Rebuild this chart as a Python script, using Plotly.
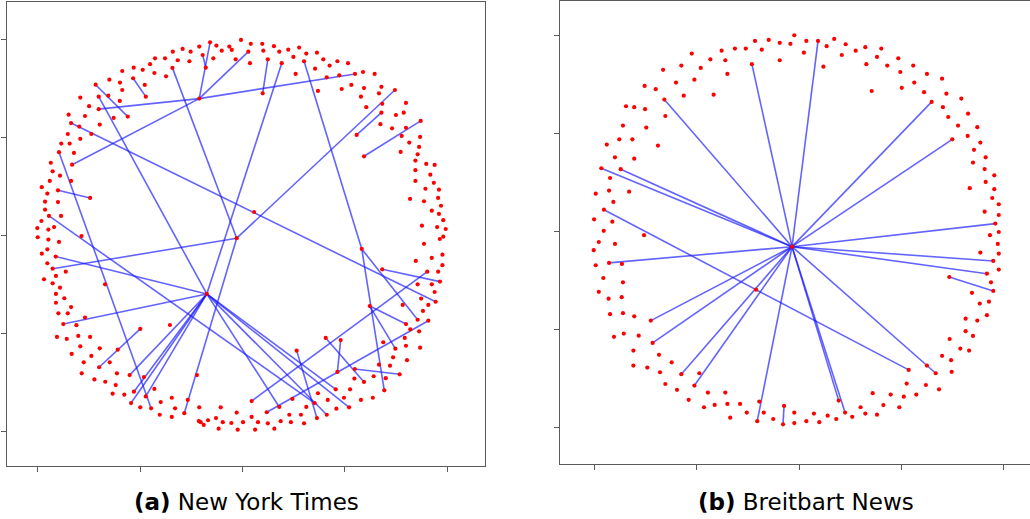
import plotly.graph_objects as go

# ---------------- (a) New York Times : node layout (spring-layout units) ----------------
nyt_ids = ("a1 a2 a4 a5 a6 a7 a8 a9 a10 a11 "
           "a12 a13 a14 a15 a16 a17 a18 a19 a20 a21 "
           "a22 a23 a24 a25 a26 a27 a28 a29 a30 a31 "
           "a32 a33 a34 a35 a36 a37 a38 a39 a40 a41 "
           "a42 a43 a44 a45 a46 a47 a48 a49 a50 a51 "
           "a52 a53 a54 a55 a56 a57 a58 a59 a60 a61 "
           "a62 a63 a64 a65 a66 a67 a68 a69 a70 a71 "
           "a72 a74 a75 a76 a77 "
           "b1 b2 b3 b4 b5 b6 b7 b8 b9 b10 "
           "b11 b12 b13 b14 b15 b16 b17 b18 b19 b20 "
           "b21 b22 b23 b24 b25 b26 b27 b28 b29 b30 "
           "b31 b32 b33 b34 b35 b36 b37 b38 b39 b40 "
           "b41 b42 b43 b44 b45 b46 b47 b48 b49 b50 "
           "b51 b52 b53 b54 b55 b56 b57 b58 b59 b60 "
           "b61 b62 b63 b64 b65 b66 b67 b68 b69 b70 "
           "b71 b72 b73 "
           "c1 c2 c3 c5 c6 c7 c8 c9 c10 c11 "
           "c12 c13 c14 c15 c16 c17 c18 c19 c20 c21 "
           "c22 c23 c24 c25 c26 c27 c28 c29 c30 c31 "
           "c32 c33 c34 c35 c36 c37 c38 c39 c40 c41 "
           "c42 c43 c44 c45 c46 c47 c48 c49 c50 c51 "
           "c52 c53 c54 c55 c56 c57 c58 c59 c60 c61 "
           "c62 c63 c64 c65 c66 c67 c68 c69 c70 c71 "
           "c72 c73 c74 c75 c76 "
           "d4 d5 d6 d7 d8 d9 d10 d11 d12 d13 "
           "d14 d15 d16 d17 d18 d19 d20 d21 d22 d23 "
           "d24 d25 d26 d27 d28 d29 d30 d31 d32 d33 "
           "d34 d35 d36 d37 d38 d39 d40 d41 d42 d43 "
           "d44 d45 d46 d47 d48 d49 d50 d51 d52 d53 "
           "d54 d55 d56 d57 d58 d59 d60 d61 d62 d63 "
           "d64 d65 d66 d67 d69 d70 d71 d72 d73 d74 "
           "d75").split()

nyt_x = [-0.159, -0.008, -0.212, -0.128, -0.065, -0.053, -0.102, 0.028, -0.195, -0.143,
         -0.034, 0.036, -0.293, -0.254, -0.341, -0.379, -0.428, -0.317, -0.260, -0.343,
         -0.180, -0.212, -0.452, -0.488, -0.532, -0.588, -0.431, -0.374, -0.651, -0.599,
         -0.535, -0.478, -0.473, -0.588, -0.718, -0.656, -0.703, -0.600, -0.703, -0.561,
         -0.793, -0.750, -0.770, -0.630, -0.698, -0.850, -0.838, -0.798, -0.739, -0.854,
         -0.793, -0.886, -0.845, -0.824, -0.897, -0.833, -0.937, -0.928, -0.892, -0.942,
         -0.838, -0.981, -0.954, -0.902, -0.745, -0.965, -0.902, -0.965, -0.946, -0.887,
         -0.983, -0.921, -1.003, -0.949, -0.787,
         0.040, 0.096, 0.153, 0.101, 0.179, 0.223, 0.276, 0.248, 0.311, 0.363,
         0.123, 0.191, 0.300, 0.394, 0.463, 0.425, 0.515, 0.354, 0.259, 0.411,
         0.472, 0.549, 0.588, 0.645, 0.098, 0.368, 0.484, 0.531, 0.593, 0.678,
         0.666, 0.744, 0.578, 0.682, 0.604, 0.798, 0.749, 0.787, 0.678, 0.673,
         0.730, 0.798, 0.870, 0.557, 0.777, 0.867, 0.814, 0.862, 0.593, 0.772,
         0.855, 0.844, 0.897, 0.938, 0.844, 0.917, 0.844, 0.934, 0.893, 0.959,
         0.818, 0.886, 0.955, 0.969, 0.924, 0.959, 0.980, 0.876, 0.950, 0.992,
         0.980, 0.963, 0.056,
         -1.001, -0.949, -0.897, -0.981, -0.954, -0.913, -0.954, -0.928, -0.864, -0.912,
         -0.970, -0.928, -0.892, -0.912, -0.871, -0.912, -0.838, -0.900, -0.854, -0.770,
         -0.876, -0.812, -0.672, -0.029, -0.175, -0.355, -0.500, -0.907, -0.859, -0.803,
         -0.745, -0.793, -0.698, -0.610, -0.835, -0.739, -0.649, -0.776, -0.701, -0.786,
         -0.614, -0.552, -0.482, -0.223, -0.724, -0.671, -0.620, -0.431, -0.531, -0.635,
         -0.578, -0.473, -0.346, -0.268, -0.545, -0.400, -0.500, -0.447, -0.330, -0.212,
         -0.107, -0.285, -0.405, -0.346, -0.029, -0.214, -0.205, -0.190, -0.169, -0.130,
         -0.097, -0.055, 0.002, -0.117, -0.024,
         0.886, 0.976, 0.924, 0.846, 0.582, 0.976, 0.682, 0.902, 0.955, 0.964,
         0.855, 0.924, 0.938, 0.872, 0.943, 0.907, 0.782, 0.621, 0.881, 0.855,
         0.798, 0.907, 0.819, 0.862, 0.792, 0.406, 0.479, 0.687, 0.798, 0.867,
         0.746, 0.264, 0.735, 0.803, 0.666, 0.720, 0.548, 0.463, 0.767, 0.640,
         0.699, 0.546, 0.593, 0.692, 0.455, 0.525, 0.368, 0.636, 0.578, 0.495,
         0.416, 0.243, 0.044, 0.179, 0.352, 0.311, 0.458, 0.520, 0.118, 0.228,
         0.285, 0.411, 0.363, 0.044, 0.075, 0.123, 0.186, 0.236, 0.300, 0.061,
         0.155]

nyt_y = [0.988, 1.000, 0.966, 0.971, 0.966, 0.949, 0.945, 0.940, 0.923, 0.906,
         0.901, 0.881, 0.954, 0.940, 0.940, 0.906, 0.906, 0.896, 0.891, 0.857,
         0.858, 0.700, 0.876, 0.847, 0.858, 0.841, 0.831, 0.814, 0.797, 0.782,
         0.804, 0.770, 0.710, 0.744, 0.771, 0.715, 0.710, 0.688, 0.646, 0.608,
         0.705, 0.661, 0.611, 0.601, 0.567, 0.618, 0.575, 0.557, 0.519, 0.519,
         0.494, 0.470, 0.470, 0.422, 0.426, 0.362, 0.372, 0.328, 0.306, 0.279,
         0.279, 0.247, 0.214, 0.231, 0.192, 0.173, 0.171, 0.132, 0.100, 0.100,
         0.074, 0.043, 0.038, 0.030, -0.003,
         0.980, 0.980, 0.968, 0.945, 0.940, 0.950, 0.961, 0.913, 0.930, 0.935,
         0.901, 0.881, 0.891, 0.901, 0.891, 0.869, 0.881, 0.853, 0.826, 0.809,
         0.819, 0.826, 0.836, 0.826, 0.727, 0.739, 0.749, 0.770, 0.754, 0.760,
         0.727, 0.744, 0.710, 0.673, 0.656, 0.678, 0.616, 0.628, 0.628, 0.569,
         0.548, 0.551, 0.586, 0.514, 0.509, 0.504, 0.475, 0.453, 0.405, 0.427,
         0.415, 0.383, 0.366, 0.361, 0.334, 0.311, 0.279, 0.269, 0.239, 0.234,
         0.187, 0.175, 0.192, 0.152, 0.127, 0.110, 0.078, 0.050, 0.043, 0.033,
         -0.006, -0.018, 0.120,
         -0.009, -0.021, -0.033, -0.093, -0.071, -0.108, -0.142, -0.170, -0.185, -0.207,
         -0.224, -0.245, -0.267, -0.299, -0.321, -0.344, -0.366, -0.398, -0.398, -0.420,
         -0.453, -0.459, -0.250, -0.014, -0.299, -0.458, -0.478, -0.519, -0.529, -0.514,
         -0.519, -0.567, -0.577, -0.584, -0.606, -0.616, -0.649, -0.649, -0.674, -0.705,
         -0.705, -0.714, -0.724, -0.714, -0.736, -0.748, -0.765, -0.785, -0.799, -0.809,
         -0.814, -0.823, -0.830, -0.841, -0.857, -0.852, -0.879, -0.884, -0.884, -0.879,
         -0.879, -0.909, -0.917, -0.928, -0.906, -0.949, -0.955, -0.969, -0.945, -0.934,
         -0.955, -0.959, -0.955, -0.988, -0.993,
         -0.043, -0.098, -0.115, -0.130, -0.069, -0.152, -0.173, -0.185, -0.185, -0.236,
         -0.250, -0.250, -0.289, -0.323, -0.339, -0.355, -0.355, -0.361, -0.386, -0.431,
         -0.453, -0.436, -0.480, -0.490, -0.524, -0.524, -0.535, -0.546, -0.564, -0.574,
         -0.579, -0.589, -0.623, -0.638, -0.661, -0.666, -0.683, -0.698, -0.710, -0.720,
         -0.730, -0.732, -0.749, -0.792, -0.787, -0.787, -0.807, -0.830, -0.841, -0.830,
         -0.841, -0.836, -0.847, -0.877, -0.857, -0.877, -0.886, -0.879, -0.904, -0.917,
         -0.917, -0.917, -0.934, -0.928, -0.955, -0.961, -0.950, -0.955, -0.961, -0.993,
         -0.988]

nyt_edges = [("a1", "a23"), ("a10", "a22"), ("a23", "a9"), ("a23", "b22"), ("a23", "a40"),
             ("a23", "a57"), ("a21", "c25"), ("a36", "a41"), ("a32", "a34"), ("a38", "c26"),
             ("a48", "d18"), ("a56", "c59"), ("a65", "a66"), ("a70", "d58"), ("b11", "b25"),
             ("b12", "c26"), ("b13", "d8"), ("b32", "c25"), ("b44", "b39"), ("b49", "b43"),
             ("c7", "c26"), ("c9", "c25"), ("c22", "c26"), ("c28", "c40"), ("c26", "c43"),
             ("c26", "c50"), ("c26", "c56"), ("c26", "c53"), ("c63", "c25"), ("c26", "d48"),
             ("c26", "d61"), ("c26", "d65"), ("c26", "d57"), ("d8", "d23"), ("d8", "d47"),
             ("d21", "d34"), ("d21", "d24"), ("d10", "d13"), ("d56", "d11"), ("d62", "d25"),
             ("d29", "d46"), ("d30", "d41"), ("d35", "d66"), ("d40", "d42")]

# ---------------- (b) Breitbart News : node layout (spring-layout units) ----------------
bb_ids = ("r1 r2 r3 r4 r5 r6 r7 r8 r9 r10 "
          "r11 r12 r13 r14 r15 r16 r17 r18 r19 r20 "
          "r21 r22 r23 r24 r25 r26 r27 r28 r29 r30 "
          "r31 r32 r33 r34 r35 r36 r37 r38 r39 r40 "
          "r41 r42 r43 r44 r45 r46 r47 r48 r49 hub "
          "s2 s3 s4 s5 s6 s7 s8 s9 s10 s11 "
          "s12 s13 s14 s15 s16 s17 s18 s19 s20 s21 "
          "s22 s23 s24 s25 s26 s27 s28 s29 s30 s31 "
          "s32 s33 s34 s35 s36 s37 s38 s39 s40 s41 "
          "s42 s43 s44 s45 s46 s47 s48 s49 s50 "
          "t1 t2 t3 t4 t5 t6 t7 t8 t9 t10 "
          "t11 t12 t13 t14 t15 t16 t17 t18 t19 t20 "
          "t21 t22 t23 t24 t25 t26 t27 t28 t29 t30 "
          "t31 t32 t33 t34 t35 t36 t37 t38 t39 t40 "
          "t41 t42 t43 t44 t45 t46 t47 t48 "
          "u1 u2 u3 u4 u5 u6 u7 u8 u9 u10 "
          "u11 u12 u13 u14 u15 u16 u17 u18 u19 u20 "
          "u21 u22 u23 u24 u25 u26 u27 u28 u29 u30 "
          "u31 u32 u33 u34 u35 u36 u37 u38 u39 u40 "
          "u41 u42 u43 u44 u45 u46").split()

bb_x = [-0.024, -0.216, -0.149, -0.095, -0.043, -0.314, -0.261, -0.183, -0.379, -0.525,
        -0.434, -0.361, -0.095, -0.231, -0.576, -0.481, -0.665, -0.351, -0.602, -0.512,
        -0.755, -0.701, -0.564, -0.418, -0.659, -0.846, -0.806, -0.753, -0.654, -0.861,
        -0.747, -0.879, -0.815, -0.940, -0.690, -0.900, -0.806, -0.967, -0.872, -0.924,
        -0.994, -0.929, -0.831, -0.908, -0.954, -1.002, -0.913, -0.955, -0.758, -0.035,
        0.035, 0.023, 0.092, 0.171, 0.134, 0.227, 0.208, 0.118, 0.276, 0.323,
        0.401, 0.328, 0.380, 0.484, 0.430, 0.494, 0.557, 0.624, 0.354, 0.501,
        0.562, 0.698, 0.610, 0.719, 0.647, 0.792, 0.702, 0.728, 0.825, 0.776,
        0.870, 0.748, 0.823, 0.885, 0.854, 0.911, 0.849, 0.906, 0.953, 0.911,
        0.833, 0.953, 0.943, 0.975, 0.906, 0.975, 0.958, 0.975, 0.932,
        -0.979, -0.900, -1.004, -0.929, -0.866, -0.994, -0.957, -0.861, -0.979, -0.931,
        -0.867, -0.211, -0.924, -0.861, -0.806, -0.725, -0.905, -0.857, -0.784, -0.716,
        -0.810, -0.685, -0.623, -0.810, -0.742, -0.576, -0.488, -0.680, -0.512, -0.654,
        -0.597, -0.446, -0.361, -0.540, -0.195, -0.465, -0.413, -0.351, -0.289, -0.074,
        -0.256, -0.173, -0.024, -0.337, -0.205, -0.127, -0.079, -0.024,
        0.970, 0.885, 0.975, 0.948, 0.975, 0.917, 0.733, 0.937, 0.948, 0.844,
        0.927, 0.882, 0.917, 0.813, 0.870, 0.813, 0.849, 0.735, 0.787, 0.830,
        0.698, 0.742, 0.624, 0.535, 0.667, 0.745, 0.525, 0.619, 0.683, 0.359,
        0.447, 0.511, 0.572, 0.193, 0.411, 0.489, 0.300, 0.224, 0.072, 0.139,
        0.181, 0.259, 0.323, 0.380, 0.035, 0.098]

bb_y = [1.003, 0.974, 0.979, 0.964, 0.959, 0.935, 0.935, 0.929, 0.924, 0.909,
        0.880, 0.875, 0.875, 0.855, 0.848, 0.836, 0.826, 0.805, 0.761, 0.776,
        0.744, 0.727, 0.694, 0.699, 0.674, 0.640, 0.635, 0.625, 0.590, 0.541,
        0.531, 0.471, 0.471, 0.444, 0.439, 0.379, 0.372, 0.323, 0.318, 0.273,
        0.193, 0.209, 0.203, 0.151, 0.111, 0.062, 0.050, 0.003, -0.019, -0.078,
        0.974, 0.914, 0.974, 0.984, 0.947, 0.957, 0.902, 0.842, 0.924, 0.942,
        0.935, 0.855, 0.892, 0.885, 0.848, 0.815, 0.848, 0.805, 0.718, 0.734,
        0.761, 0.781, 0.712, 0.704, 0.662, 0.679, 0.635, 0.585, 0.602, 0.541,
        0.533, 0.471, 0.488, 0.454, 0.417, 0.379, 0.352, 0.319, 0.287, 0.253,
        0.221, 0.216, 0.171, 0.139, 0.101, 0.084, 0.040, -0.003, -0.019,
        -0.054, -0.064, -0.096, -0.161, -0.166, -0.173, -0.238, -0.260, -0.309, -0.344,
        -0.336, -0.298, -0.423, -0.418, -0.434, -0.456, -0.539, -0.522, -0.533, -0.570,
        -0.609, -0.631, -0.669, -0.686, -0.696, -0.730, -0.725, -0.720, -0.788, -0.780,
        -0.810, -0.824, -0.824, -0.861, -0.870, -0.899, -0.887, -0.882, -0.882, -0.892,
        -0.926, -0.926, -0.926, -0.952, -0.970, -0.959, -0.986, -0.980,
        -0.064, -0.108, -0.113, -0.151, -0.195, -0.216, -0.233, -0.260, -0.304, -0.314,
        -0.359, -0.369, -0.428, -0.446, -0.456, -0.510, -0.534, -0.550, -0.599, -0.609,
        -0.636, -0.658, -0.686, -0.708, -0.725, -0.718, -0.778, -0.785, -0.807, -0.827,
        -0.834, -0.845, -0.834, -0.865, -0.888, -0.899, -0.899, -0.926, -0.931, -0.942,
        -0.959, -0.948, -0.931, -0.937, -0.970, -0.975]

bb_edges = [("hub", "r14"), ("hub", "r25"), ("hub", "r38"), ("hub", "r39"), ("hub", "t4"),
            ("hub", "t16"), ("hub", "t20"), ("hub", "t26"), ("hub", "t29"), ("hub", "t45"),
            ("hub", "s4"), ("hub", "s26"), ("hub", "s33"), ("hub", "s48"), ("hub", "u4"),
            ("hub", "u6"), ("hub", "u25"), ("hub", "u34"), ("hub", "u38"),
            ("r45", "u24"), ("t40", "t47"), ("u7", "u9")]

tick_vals = [-1, -0.5, 0, 0.5, 1]
captions = ["<b>(a)</b> New York Times", "<b>(b)</b> Breitbart News"]

W, H = 1030, 519
EDGE_COLOR = "rgba(25,25,255,0.68)"
NODE_COLOR = "#ff0000"
FRAME = "#5a5a5a"


def edge_xy(ids, xs, ys, edges):
    pos = {k: (x, y) for k, x, y in zip(ids, xs, ys)}
    ex, ey = [], []
    for a, b in edges:
        ex += [pos[a][0], pos[b][0], None]
        ey += [pos[a][1], pos[b][1], None]
    return ex, ey


fig = go.Figure()
panels = [(nyt_ids, nyt_x, nyt_y, nyt_edges, "x", "y"),
          (bb_ids, bb_x, bb_y, bb_edges, "x2", "y2")]
for ids, xs, ys, edges, xa, ya in panels:
    ex, ey = edge_xy(ids, xs, ys, edges)
    fig.add_trace(go.Scatter(x=ex, y=ey, mode="lines", xaxis=xa, yaxis=ya,
                             line=dict(color=EDGE_COLOR, width=1.6),
                             hoverinfo="skip", showlegend=False))
    fig.add_trace(go.Scatter(x=xs, y=ys, mode="markers", xaxis=xa, yaxis=ya,
                             marker=dict(color=NODE_COLOR, size=4.2, line=dict(width=0)),
                             text=ids, hoverinfo="text", showlegend=False))

axis_common = dict(showgrid=False, zeroline=False, showticklabels=False,
                   ticks="outside", ticklen=5, tickwidth=1, tickcolor=FRAME,
                   tickvals=tick_vals, showline=True, linecolor=FRAME, linewidth=1.3)

fig.update_layout(
    width=W, height=H,
    margin=dict(l=0, r=0, t=0, b=0),
    paper_bgcolor="white", plot_bgcolor="white",
    xaxis=dict(domain=[7 / W, 485 / W], range=[-1.151, 1.184], mirror=True,
               anchor="y", **axis_common),
    yaxis=dict(domain=[1 - 466 / H, 1 - 2 / H], range=[-1.179, 1.194], mirror=True,
               anchor="x", **axis_common),
    xaxis2=dict(domain=[560 / W, 1.0], range=[-1.1686, 1.1275], mirror=True,
                anchor="y2", **axis_common),
    yaxis2=dict(domain=[1 - 464 / H, 1 - 1 / H], range=[-1.189, 1.178], mirror=False,
                anchor="x2", **axis_common),
)

for cap, cx in zip(captions, [246 / W, 806 / W]):
    fig.add_annotation(text=cap, xref="paper", yref="paper", x=cx, y=1 - 502 / H,
                       xanchor="center", yanchor="middle", showarrow=False,
                       font=dict(family="DejaVu Sans", size=23, color="black"))

fig.write_html("out.html")
